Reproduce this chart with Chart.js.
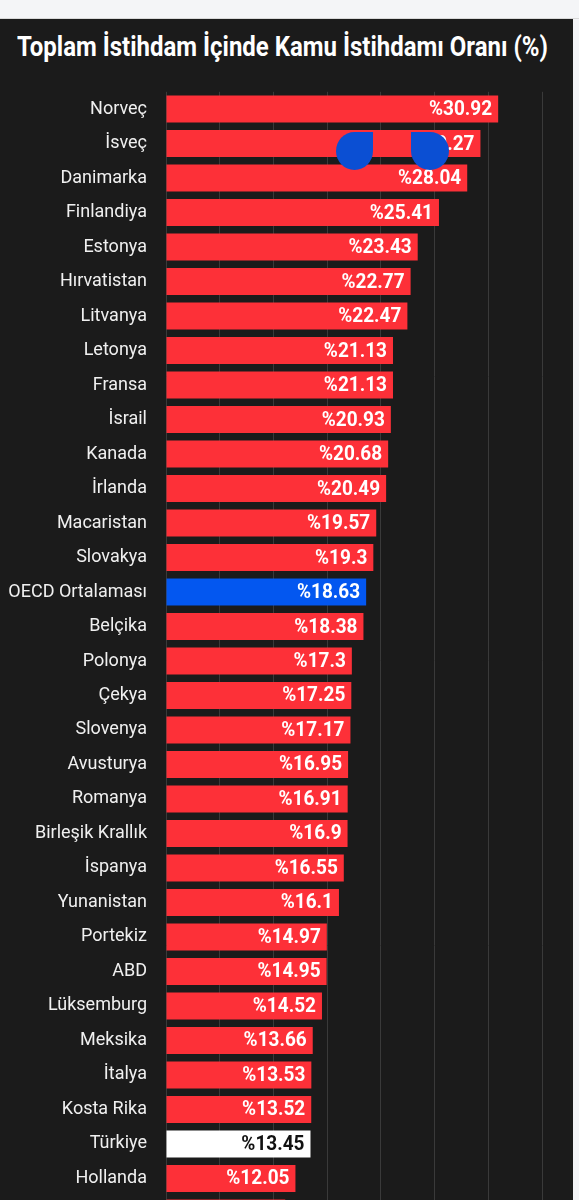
<!DOCTYPE html>
<html>
<head>
<meta charset="utf-8">
<script src="https://cdn.jsdelivr.net/npm/chart.js@4/dist/chart.umd.min.js"></script>
<style>
  html, body { margin: 0; padding: 0; background: #f4f5f7; width: 579px; height: 1200px; overflow: hidden; }
  #sep { position: absolute; left: 0; top: 18px; width: 579px; height: 1px; background: #d8d8d8; }
  #panel { position: absolute; left: 0; top: 19px; width: 573px; height: 1240px; background: #1b1b1b; }
  #title { position: absolute; left: 17px; top: 27px; margin: 0; font-family: Roboto, sans-serif; font-weight: 700; font-size: 27px; color: #ffffff; white-space: nowrap; transform-origin: 0 0; line-height: 40px; }
  #c { position: absolute; left: 0; top: 62px; }
  .blob { position: absolute; background: #0b4fd3; }
</style>
</head>
<body>
<div id="sep"></div>
<div id="panel"></div>
<h1 id="title">Toplam İstihdam İçinde Kamu İstihdamı Oranı (%)</h1>
<canvas id="c" width="573" height="1198"></canvas>
<div class="blob" style="left:336px;top:132px;width:37px;height:38px;border-radius:50% 0 50% 50%;"></div>
<div class="blob" style="left:411px;top:132px;width:38px;height:38px;border-radius:0 50% 50% 50%;"></div>
<script>
const categories = ["Norveç","İsveç","Danimarka","Finlandiya","Estonya","Hırvatistan","Litvanya","Letonya","Fransa","İsrail","Kanada","İrlanda","Macaristan","Slovakya","OECD Ortalaması","Belçika","Polonya","Çekya","Slovenya","Avusturya","Romanya","Birleşik Krallık","İspanya","Yunanistan","Portekiz","ABD","Lüksemburg","Meksika","İtalya","Kosta Rika","Türkiye","Hollanda","Almanya"];
const values = [30.92,29.27,28.04,25.41,23.43,22.77,22.47,21.13,21.13,20.93,20.68,20.49,19.57,19.3,18.63,18.38,17.3,17.25,17.17,16.95,16.91,16.9,16.55,16.1,14.97,14.95,14.52,13.66,13.53,13.52,13.45,12.05,11.1];
const xTicks = [0,5,10,15,20,25,30,35];

const t = document.getElementById('title');
const tw = t.getBoundingClientRect().width;
t.style.transform = 'scaleX(' + (531 / tw) + ')';

const barColors = categories.map(c => c === "OECD Ortalaması" ? "#0357f0" : (c === "Türkiye" ? "#ffffff" : "#fd3038"));
const labelColors = categories.map(c => c === "Türkiye" ? "#111111" : "#ffffff");

const valueLabels = {
  id: 'valueLabels',
  afterDatasetsDraw(chart) {
    const ctx = chart.ctx;
    const meta = chart.getDatasetMeta(0);
    const sx = 0.95;
    meta.data.forEach((bar, i) => {
      ctx.save();
      ctx.font = '700 20px Roboto, sans-serif';
      ctx.textAlign = 'right';
      ctx.textBaseline = 'middle';
      ctx.fillStyle = labelColors[i];
      ctx.translate(bar.x - 6, bar.y + 1);
      ctx.scale(sx, 1);
      ctx.fillText('%' + values[i], 0, 0);
      ctx.restore();
    });
  }
};

new Chart(document.getElementById('c'), {
  type: 'bar',
  data: {
    labels: categories,
    datasets: [{
      data: values,
      backgroundColor: barColors,
      borderWidth: 0,
      categoryPercentage: 1,
      barPercentage: 0.78
    }]
  },
  options: {
    indexAxis: 'y',
    responsive: false,
    animation: false,
    layout: { padding: { left: 0, right: 31, top: 0, bottom: 0 } },
    plugins: { legend: { display: false }, tooltip: { enabled: false }, title: { display: false } },
    scales: {
      x: {
        min: 0, max: 35,
        afterBuildTicks: s => { s.ticks = xTicks.map(v => ({ value: v })); },
        afterFit: s => { s.height = 0; },
        ticks: { display: false },
        border: { display: false },
        grid: { color: '#3a3a3a', lineWidth: 1, drawTicks: false }
      },
      y: {
        afterFit: s => { s.width = 166; },
        border: { display: false },
        grid: { display: false, drawTicks: false },
        ticks: { color: '#f0f0f0', padding: 19, font: { family: 'Roboto', size: 18 } }
      }
    }
  },
  plugins: [valueLabels]
});
</script>
</body>
</html>
